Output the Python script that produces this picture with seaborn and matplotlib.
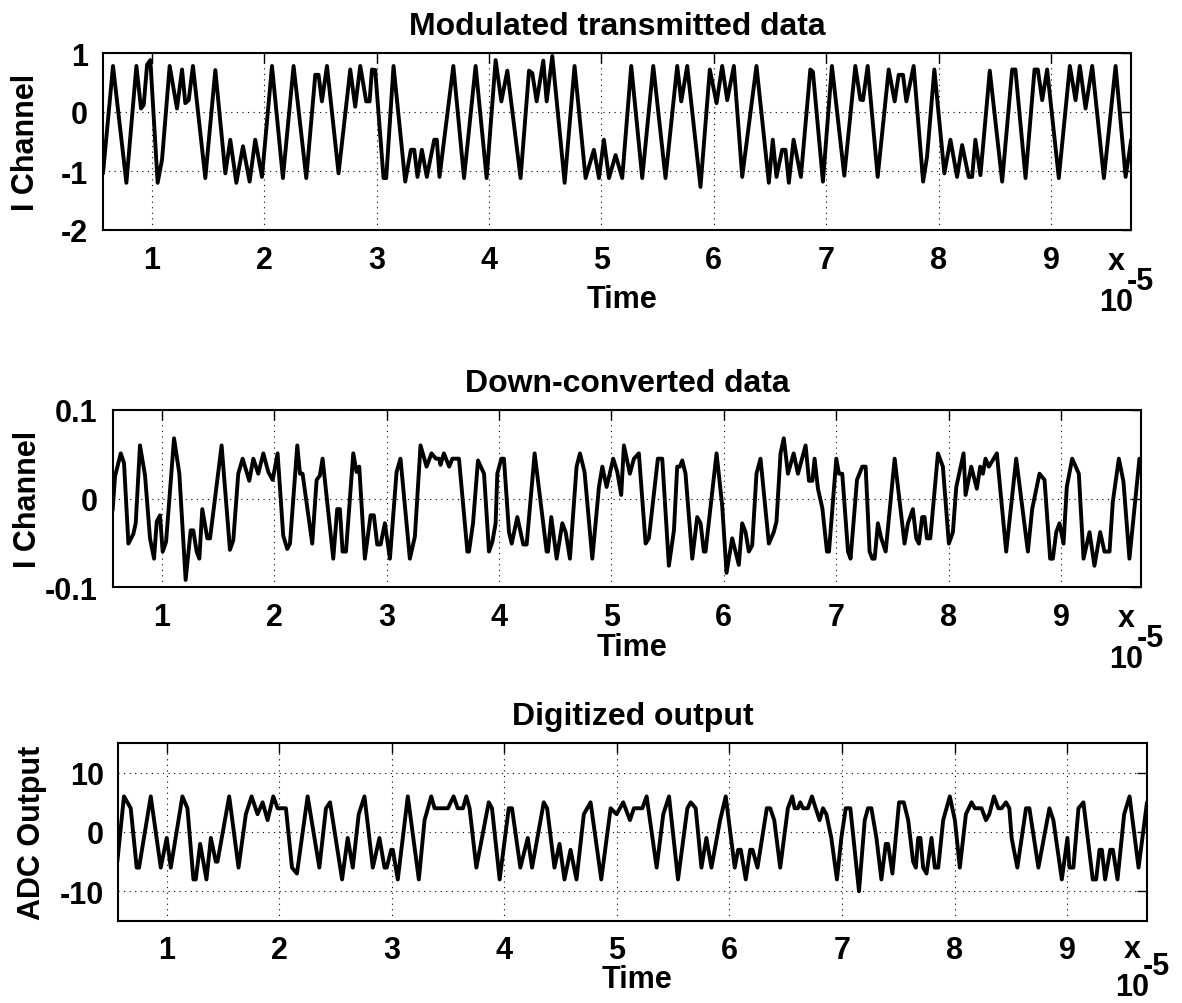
import matplotlib
matplotlib.use("Agg")
import matplotlib.pyplot as plt
import pandas as pd
import seaborn as sns

# Time axis is expressed in units of 1e-5 s
tx_time = [0.567, 0.656, 0.775, 0.864, 0.905, 0.929, 0.959, 0.988, 1.053, 1.092,
           1.160, 1.225, 1.270, 1.299, 1.329, 1.367, 1.477, 1.566, 1.655, 1.699,
           1.753, 1.812, 1.871, 1.921, 1.981, 2.070, 2.167, 2.262, 2.375, 2.455,
           2.484, 2.514, 2.559, 2.662, 2.766, 2.810, 2.855, 2.908, 2.938, 2.959,
           2.988, 3.062, 3.086, 3.151, 3.255, 3.305, 3.335, 3.364, 3.403, 3.447,
           3.513, 3.536, 3.560, 3.683, 3.778, 3.881, 3.979, 4.059, 4.110, 4.163,
           4.281, 4.356, 4.385, 4.424, 4.483, 4.513, 4.563, 4.673, 4.761, 4.859,
           4.933, 4.978, 5.022, 5.067, 5.126, 5.185, 5.265, 5.363, 5.461, 5.570,
           5.674, 5.710, 5.763, 5.881, 5.964, 6.024, 6.074, 6.119, 6.178, 6.252,
           6.379, 6.489, 6.524, 6.557, 6.607, 6.637, 6.667, 6.709, 6.774, 6.858,
           6.881, 6.970, 7.050, 7.160, 7.258, 7.303, 7.326, 7.368, 7.457, 7.555,
           7.608, 7.644, 7.682, 7.712, 7.777, 7.861, 7.896, 7.961, 8.050, 8.104,
           8.163, 8.208, 8.267, 8.297, 8.326, 8.371, 8.454, 8.564, 8.653, 8.682,
           8.772, 8.852, 8.881, 8.920, 8.964, 9.068, 9.166, 9.217, 9.255, 9.306,
           9.365, 9.469, 9.573, 9.662, 9.712]
tx_i = [-1.04, 0.78, -1.20, 0.78, 0.06, 0.12, 0.80, 0.88, -1.20, -0.81,
        0.78, 0.06, 0.72, 0.15, 0.20, 0.78, -1.12, 0.71, -1.04, -0.47,
        -1.20, -0.58, -1.18, -0.47, -1.10, 0.78, -1.12, 0.78, -1.12, 0.63,
        0.63, 0.18, 0.78, -1.04, 0.72, 0.09, 0.78, 0.18, 0.18, 0.72,
        0.71, -1.12, -1.12, 0.78, -1.18, -0.64, -0.64, -1.10, -0.64, -1.10,
        -0.47, -0.47, -1.10, 0.78, -1.12, 0.78, -1.12, 0.88, 0.18, 0.70,
        -1.12, 0.70, 0.66, 0.18, 0.87, 0.18, 0.95, -1.20, 0.78, -1.12,
        -0.64, -1.12, -0.47, -1.12, -0.73, -1.12, 0.78, -1.12, 0.78, -1.12,
        0.78, 0.18, 0.78, -1.27, 0.72, 0.15, 0.78, 0.20, 0.78, -1.10,
        0.78, -1.20, -0.47, -1.10, -0.64, -0.64, -1.20, -0.47, -1.10, 0.72,
        0.68, -1.18, 0.78, -1.08, 0.78, 0.21, 0.20, 0.78, -1.10, 0.72,
        0.18, 0.63, 0.63, 0.18, 0.78, -1.18, -0.76, 0.72, -1.04, -0.47,
        -1.10, -0.56, -1.10, -1.10, -0.47, -1.07, 0.70, -1.18, 0.72, 0.72,
        -1.12, 0.72, 0.72, 0.20, 0.72, -1.12, 0.78, 0.20, 0.78, 0.06,
        0.78, -1.12, 0.78, -1.10, -0.47]

dc_time = [0.564, 0.585, 0.636, 0.665, 0.704, 0.748, 0.769, 0.807, 0.852, 0.896,
           0.932, 0.956, 0.985, 1.009, 1.039, 1.110, 1.157, 1.213, 1.258, 1.281,
           1.311, 1.335, 1.361, 1.406, 1.430, 1.533, 1.607, 1.637, 1.681, 1.720,
           1.779, 1.815, 1.859, 1.904, 1.948, 1.987, 2.031, 2.081, 2.117, 2.141,
           2.206, 2.230, 2.253, 2.339, 2.378, 2.407, 2.431, 2.526, 2.561, 2.585,
           2.609, 2.639, 2.704, 2.733, 2.757, 2.807, 2.858, 2.887, 2.917, 2.947,
           2.985, 3.030, 3.089, 3.124, 3.207, 3.252, 3.302, 3.356, 3.400, 3.439,
           3.468, 3.480, 3.510, 3.557, 3.585, 3.644, 3.719, 3.733, 3.769, 3.813,
           3.867, 3.911, 3.941, 3.970, 3.985, 4.021, 4.044, 4.089, 4.113, 4.163,
           4.216, 4.246, 4.317, 4.424, 4.436, 4.465, 4.513, 4.563, 4.593, 4.631,
           4.690, 4.720, 4.761, 4.830, 4.889, 4.919, 4.957, 5.016, 5.052, 5.087,
           5.111, 5.164, 5.200, 5.244, 5.304, 5.333, 5.413, 5.452, 5.511, 5.556,
           5.585, 5.609, 5.630, 5.659, 5.719, 5.763, 5.793, 5.822, 5.837, 5.935,
           5.985, 6.024, 6.074, 6.133, 6.163, 6.193, 6.222, 6.252, 6.290, 6.326,
           6.400, 6.444, 6.468, 6.504, 6.533, 6.570, 6.621, 6.659, 6.727, 6.757,
           6.787, 6.807, 6.837, 6.876, 6.917, 6.935, 7.000, 7.024, 7.053, 7.104,
           7.127, 7.184, 7.231, 7.261, 7.296, 7.320, 7.341, 7.370, 7.400, 7.439,
           7.519, 7.607, 7.637, 7.681, 7.711, 7.735, 7.764, 7.785, 7.806, 7.836,
           7.904, 7.948, 8.001, 8.037, 8.067, 8.132, 8.150, 8.200, 8.250, 8.280,
           8.304, 8.327, 8.357, 8.428, 8.511, 8.600, 8.704, 8.742, 8.807, 8.852,
           8.902, 8.926, 8.956, 8.985, 9.021, 9.050, 9.098, 9.157, 9.199, 9.252,
           9.296, 9.347, 9.385, 9.430, 9.459, 9.513, 9.554, 9.607, 9.696]
dc_i = [-0.013, 0.025, 0.051, 0.040, -0.051, -0.040, -0.028, 0.060, 0.026, -0.045,
        -0.068, -0.026, -0.019, -0.060, -0.049, 0.068, 0.028, -0.092, -0.036, -0.036,
        -0.060, -0.068, -0.012, -0.045, -0.045, 0.060, -0.058, -0.047, 0.028, 0.045,
        0.020, 0.045, 0.028, 0.051, 0.030, 0.021, 0.051, -0.042, -0.057, -0.051,
        0.060, 0.028, 0.028, -0.051, 0.021, 0.026, 0.045, -0.068, -0.012, -0.012,
        -0.060, -0.060, 0.051, 0.030, 0.036, -0.068, -0.019, -0.019, -0.052, -0.052,
        -0.028, -0.068, 0.030, 0.045, -0.068, -0.043, 0.060, 0.036, 0.051, 0.045,
        0.045, 0.038, 0.051, 0.036, 0.045, 0.045, -0.060, -0.060, -0.028, 0.043,
        0.028, -0.060, -0.049, -0.028, 0.028, 0.045, 0.045, -0.038, -0.051, -0.021,
        -0.052, -0.052, 0.051, -0.060, -0.060, -0.021, -0.068, -0.028, -0.038, -0.068,
        0.036, 0.051, 0.030, -0.068, 0.013, 0.036, 0.013, 0.045, 0.030, 0.004,
        0.060, 0.028, 0.045, 0.051, -0.051, -0.045, 0.045, 0.045, -0.076, -0.036,
        0.036, 0.036, 0.043, 0.028, -0.068, -0.021, -0.028, -0.060, -0.060, 0.051,
        -0.008, -0.084, -0.045, -0.075, -0.028, -0.038, -0.060, -0.053, 0.028, 0.045,
        -0.051, -0.038, -0.026, 0.051, 0.068, 0.028, 0.051, 0.028, 0.060, 0.020,
        0.020, 0.045, 0.011, -0.011, -0.060, -0.060, 0.045, 0.028, 0.028, -0.060,
        -0.068, 0.021, 0.036, 0.036, -0.060, -0.068, -0.068, -0.028, -0.045, -0.060,
        0.045, -0.051, -0.028, -0.012, -0.045, -0.051, -0.021, -0.021, -0.045, -0.045,
        0.051, 0.036, -0.051, -0.038, 0.013, 0.051, 0.004, 0.036, 0.011, 0.036,
        0.028, 0.045, 0.036, 0.051, -0.060, 0.045, -0.060, -0.012, 0.028, 0.021,
        -0.068, -0.068, -0.038, -0.028, -0.051, 0.013, 0.045, 0.028, -0.068, -0.038,
        -0.076, -0.038, -0.060, -0.060, -0.004, 0.045, 0.019, -0.068, 0.045]

adc_time = [0.561, 0.620, 0.680, 0.733, 0.754, 0.858, 0.947, 1.000, 1.036, 1.139,
            1.184, 1.237, 1.258, 1.297, 1.353, 1.392, 1.436, 1.451, 1.555, 1.638,
            1.703, 1.754, 1.807, 1.852, 1.896, 1.947, 1.985, 2.059, 2.113, 2.157,
            2.252, 2.356, 2.415, 2.451, 2.558, 2.608, 2.653, 2.706, 2.757, 2.831,
            2.890, 2.935, 2.955, 2.994, 3.009, 3.053, 3.142, 3.240, 3.291, 3.350,
            3.380, 3.499, 3.549, 3.585, 3.632, 3.662, 3.691, 3.751, 3.861, 3.890,
            3.958, 4.039, 4.068, 4.142, 4.208, 4.246, 4.350, 4.380, 4.445, 4.490,
            4.534, 4.588, 4.641, 4.706, 4.766, 4.861, 4.944, 4.997, 5.056, 5.116,
            5.151, 5.226, 5.264, 5.353, 5.412, 5.463, 5.543, 5.626, 5.656, 5.700,
            5.751, 5.795, 5.840, 5.917, 5.967, 6.047, 6.077, 6.101, 6.145, 6.184,
            6.205, 6.249, 6.332, 6.362, 6.398, 6.451, 6.519, 6.558, 6.579, 6.608,
            6.629, 6.653, 6.697, 6.733, 6.766, 6.801, 6.831, 6.861, 6.905, 6.955,
            6.994, 7.033, 7.074, 7.151, 7.202, 7.231, 7.261, 7.306, 7.350, 7.389,
            7.409, 7.448, 7.507, 7.549, 7.588, 7.632, 7.656, 7.677, 7.697, 7.721,
            7.751, 7.795, 7.825, 7.855, 7.899, 7.958, 8.003, 8.047, 8.101, 8.151,
            8.181, 8.240, 8.279, 8.309, 8.350, 8.389, 8.418, 8.457, 8.487, 8.507,
            8.558, 8.635, 8.665, 8.745, 8.843, 8.878, 8.953, 9.003, 9.021, 9.056,
            9.101, 9.145, 9.228, 9.258, 9.288, 9.309, 9.338, 9.383, 9.407, 9.448,
            9.507, 9.555, 9.635, 9.710]
adc_out = [-5, 6, 4, -6, -6, 6, -6, -1, -6, 6,
           4, -8, -8, -2, -8, -1, -5, -5, 6, -6,
           3, 6, 3, 5, 2, 6, 4, 4, -6, -7,
           6, -6, 4, 5, -8, -1, -6, 3, 6, -6,
           -1, -6, -6, -3, -3, -8, 6, -8, 2, 6,
           4, 4, 6, 4, 4, 6, 4, -6, 5, 4,
           -8, 4, 4, -6, -1, -6, 5, 4, -6, -2,
           -8, -3, -8, 3, 5, -8, 4, 3, 5, 2,
           4, 4, 6, -6, 3, 6, -8, 4, 5, 4,
           -6, -1, -6, 2, 6, -6, -3, -3, -8, -3,
           -3, -6, 4, 4, 2, -6, 4, 6, 4, 4,
           5, 4, 4, 6, 4, 2, 4, 3, -1, -8,
           -1, 4, 4, -10, 2, 4, 4, -1, -8, -2,
           -2, -7, 5, 5, 2, -5, -6, -1, -1, -6,
           -7, -1, -6, -6, 2, 6, 2, -6, 3, 5,
           4, 4, 2, 3, 6, 4, 4, 5, 4, -1,
           -6, 4, 4, -6, 4, 2, -8, -1, -6, -6,
           4, 5, -8, -8, -3, -3, -8, -3, -3, -8,
           3, 6, -6, 5]

time_ticks = [1, 2, 3, 4, 5, 6, 7, 8, 9]
titles = ["Modulated transmitted data", "Down-converted data", "Digitized output"]
ylabels = ["I Channel", "I Channel", "ADC Output"]
yticks = [[-2, -1, 0, 1], [-0.1, 0, 0.1], [-10, 0, 10]]
yticklabels = [["-2", "-1", "0", "1"], ["-0.1", "0", "0.1"], ["-10", "0", "10"]]
ylims = [(-2, 1), (-0.1, 0.1), (-15, 15)]

sns.set_style("white")
plt.rcParams["font.family"] = ["Liberation Sans", "DejaVu Sans"]
plt.rcParams["font.weight"] = "bold"
plt.rcParams["text.color"] = "black"
plt.rcParams["xtick.color"] = "black"
plt.rcParams["ytick.color"] = "black"

W, H = 1182, 1004
fig = plt.figure(figsize=(W / 100, H / 100), dpi=100)

# axes boxes in pixels: left, top, right, bottom
boxes = [(103, 54, 1131, 231), (113, 411, 1141, 588), (118, 744, 1147, 922)]
ylabel_x = [26, 28, 32]
xlabel_dy = [69, 60, 58]
tick_pad = [11, 11, 10]
# offsets of the "x", "10" and "-5" exponent pieces below each axes
exp_dy = [(31, 72, 51), (31, 72, 51), (28, 66, 45)]
series = [(tx_time, tx_i), (dc_time, dc_i), (adc_time, adc_out)]
FS = 22
FS_TITLE = 23


def fx(px):
    return px / W


def fy(py):
    return 1 - py / H


for k, (box, (t, v)) in enumerate(zip(boxes, series)):
    l, top, r, b = box
    ax = fig.add_axes([fx(l), fy(b), (r - l) / W, (b - top) / H])
    df = pd.DataFrame({"time": t, "value": v})
    sns.lineplot(data=df, x="time", y="value", ax=ax, color="black",
                 linewidth=2.8, sort=False, estimator=None)
    ax.set_xlim(0.567, 9.71)
    ax.set_ylim(*ylims[k])
    ax.set_xticks(time_ticks)
    ax.set_xticklabels([str(x) for x in time_ticks], fontsize=FS, fontweight="bold")
    ax.set_yticks(yticks[k])
    ax.set_yticklabels(yticklabels[k], fontsize=FS, fontweight="bold")
    ax.tick_params(direction="in", top=True, right=True, length=7, width=1.0,
                   color="black", labelcolor="black", pad=tick_pad[k])
    ax.grid(True, color="black", linestyle=(0, (1, 4)), linewidth=0.8)
    for s in ax.spines.values():
        s.set_color("black")
        s.set_linewidth(1.5)
    ax.set_xlabel("")
    ax.set_ylabel("")
    cx = (l + r) / 2
    fig.text(fx(cx), fy(top - 27), titles[k], ha="center", va="center",
             fontsize=FS_TITLE, fontweight="bold", color="black")
    fig.text(fx(cx + 5), fy(b + xlabel_dy[k]), "Time", ha="center", va="center",
             fontsize=FS, fontweight="bold", color="black")
    fig.text(fx(ylabel_x[k]), fy((top + b) / 2), ylabels[k], ha="center",
             va="center", rotation=90, fontsize=FS, fontweight="bold", color="black")
    # MATLAB-style exponent marker below the right end of the time axis
    dx_, d10, d5 = exp_dy[k]
    fig.text(fx(r - 15), fy(b + dx_), "x", ha="center", va="center",
             fontsize=FS, fontweight="bold", color="black")
    fig.text(fx(r - 15), fy(b + d10), "10", ha="center", va="center",
             fontsize=FS, fontweight="bold", color="black")
    fig.text(fx(r + 9), fy(b + d5), "-5", ha="center", va="center",
             fontsize=FS, fontweight="bold", color="black")

fig.savefig("out.png", dpi=100)
